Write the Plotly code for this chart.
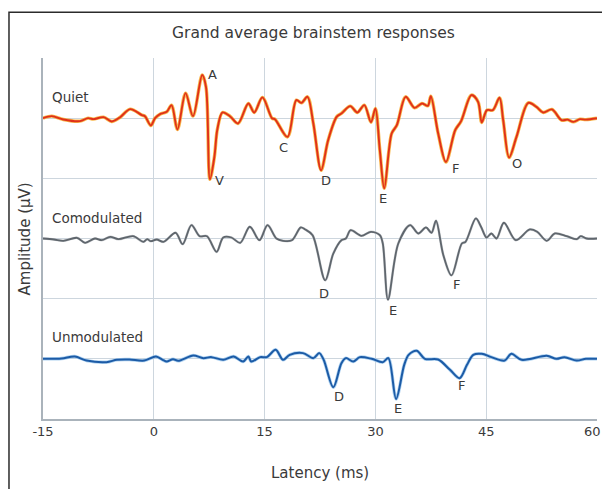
import plotly.graph_objects as go

# ---- data (latency in ms, amplitude in grid units x60) ----
quiet_ms = [-15, -13.8, -12.25, -10, -8.9, -8.2, -6.8, -5.7, -4.6, -3.2, -1.6, -1.2, -0.4, 0.17, 0.84, 1.75,
            2.4, 3.2, 4.3, 5.3, 6.55, 7.07, 7.6, 8.2, 8.6, 9.3, 10.3, 11.4, 12.8, 13.6, 14.7, 16, 16.4, 18.1,
            19.3, 20, 20.8, 21.6, 22.65, 23.6, 24.75, 25.4, 26.6, 27.55, 28.5, 29.4, 30.0, 30.6, 31.2, 32.2,
            32.9, 34.1, 35.3, 36.3, 37.1, 37.5, 38.5, 39.55, 40.8, 41.6, 43.0, 43.9, 44.4, 45.1, 45.9, 46.8,
            47.3, 48.1, 49.1, 50.7, 51.8, 52.7, 53.9, 55.2, 56.0, 56.8, 57.7, 58.5, 60]
quiet_amp = [0, 2, -1.3, -3, 0, -1, 1, -3.3, 0.7, 9, 3, 2, -7.3, 0, 4, 6.3,
             13, -11.3, 25, 2, 43, 31, -61, -38.7, -11.3, 5.7, 2, -5.3, 14.7, 5.7, 20.7, 0, -1, -18.7,
             18, 15.3, 21.3, -5.3, -52, -22, 1.3, 4.7, 12, 5.7, 13, -4, 9.7, -32, -70, -15.3,
             -7, 21.3, 10.3, 14.7, 12.3, 22, -15.3, -43.7, -12, -3, 23, 16.3, -4.3, 8, 8, 20.3,
             -2, -39.3, -18.7, 15.3, 11.3, 5.7, 8.7, -2, -1.5, -3.7, -1, -1.5, 0]

comod_ms = [-15, -13.5, -12.25, -10.4, -9.3, -7.96, -7.05, -5.9, -4.8, -2.8, -1.4, -0.9, -0.4, 0.4, 1.3,
            2.96, 3.9, 5.1, 6.2, 7.2, 8.5, 9.4, 10.5, 11.7, 13.0, 14.3, 15.4, 16.6, 17.5, 18.7, 19.9, 20.5,
            21.5, 23.2, 24.3, 25.4, 26.0, 26.65, 28.1, 29.4, 30.6, 31.0, 31.7, 33.1, 34.7, 35.8, 36.85,
            37.6, 38.2, 39.2, 40.3, 41.7, 42.2, 43.6, 44.3, 45.05, 45.7, 46.4, 47.4, 49.0, 50.9, 51.9, 53.2,
            54.3, 55.9, 57.25, 57.8, 58.6, 60]
comod_amp = [0, -1, -2.3, 0.7, -4.3, 0, -1.7, 1.7, -0.7, 2.3, -3.3, -0.7, -2.7, -1, -3.3,
             5.7, -5.7, 13.3, 2.3, 2.3, -13.3, 1, 1, -4.3, 11.7, -1.7, 13.3, 0, -2.3, -1.7, 11, 9,
             3.3, -41.7, -15, -1.7, 0, 8.3, 2.7, 6.7, 3.3, -5, -61, -5, 13.3, 5, 11,
             5.7, 17.7, -16.7, -36.7, -5, -3.3, 20, 11.7, 1, 5, 0, 15.7, -1.7, 9, 6.7, -2.3,
             5, 2.3, -0.7, 2.3, 0, 0]

unmod_ms = [-15, -12.5, -10.7, -9.1, -6.4, -5, -3.3, -1.3, 0.3, 1.2, 1.75, 2.6, 3.3, 5.35, 6.7, 7.8, 9.4,
            10.8, 12.1, 12.8, 13.2, 14.4, 15.3, 16.5, 17.5, 18.4, 20.2, 21.6, 22.4, 23.0, 24.3, 25.4, 26.0,
            27.0, 27.9, 29.5, 31.0, 31.75, 32.8, 33.9, 34.5, 35.6, 36.7, 38.5, 40.1, 41.4, 42.4, 43.25,
            44.4, 45.7, 47.5, 48.4, 49.8, 53.2, 54.5, 55.6, 57.25, 58.5, 60]
unmod_amp = [0, 0.3, 2.3, -1.7, -3.3, -1, -0.7, -1.7, 2.3, -1, -2.7, -0.3, -2, 3.3, 0.7, 1.7, -1,
             2.3, -2.7, 2.3, -2.7, 1.7, 1.7, 9, -1, 4, 5.7, 0.7, 5.7, -1, -28.3, -4.3, 0.7,
             -2.7, 1.7, 0, -3.3, 0.7, -40, -6, 4, 8, 0, -0.7, -11, -19.3, -6, 4,
             5, 1.7, -1.7, 5, -1, 3, 0, 1.7, -1.7, 0, 0]

series_names = ["Quiet", "Comodulated", "Unmodulated"]
x_ticks = [-15, 0, 15, 30, 45, 60]

# peak labels: (series index, text, latency ms, amplitude units relative to baseline)
peak_labels = [
    (0, "A", 8.0, 0.72), (0, "V", 8.96, -1.04), (0, "C", 17.5, -0.48), (0, "D", 23.3, -1.04),
    (0, "E", 31.0, -1.33), (0, "F", 40.8, -0.83), (0, "O", 49.2, -0.76),
    (1, "D", 23.0, -0.92), (1, "E", 32.4, -1.19), (1, "F", 41.0, -0.76),
    (2, "D", 25.1, -0.62), (2, "E", 33.1, -0.82), (2, "F", 41.7, -0.45),
]

# ---- layout constants ----
PX_PER_UNIT = 60.0
baselines = [5, 3, 1]
name_label_dy = [0.35, 0.34, 0.36]
halo_colors = ["#f7a51e", "#c3c6ca", "#9cc8ee"]
line_colors = ["#e0301a", "#5f666d", "#1c5ba6"]
halo_widths = [3.4, 2.6, 3.4]
line_widths = [1.9, 1.8, 2.0]

FONT = "'DejaVu Sans', sans-serif"
TXT = "#3a3a3a"

fig = go.Figure()
traces = [(quiet_ms, quiet_amp), (comod_ms, comod_amp), (unmod_ms, unmod_amp)]
for i, (xs, amps) in enumerate(traces):
    ys = [baselines[i] + a / PX_PER_UNIT for a in amps]
    fig.add_trace(go.Scatter(x=xs, y=ys, mode="lines", hoverinfo="skip",
                             line=dict(color=halo_colors[i], width=halo_widths[i],
                                       shape="spline", smoothing=0.9),
                             opacity=0.8, showlegend=False))
    fig.add_trace(go.Scatter(x=xs, y=ys, mode="lines", name=series_names[i],
                             line=dict(color=line_colors[i], width=line_widths[i],
                                       shape="spline", smoothing=0.9),
                             showlegend=False))

annotations = []
for i, name in enumerate(series_names):
    annotations.append(dict(x=-14.05, y=baselines[i] + name_label_dy[i], xref="x", yref="y",
                            text=name, showarrow=False, xanchor="left", yanchor="middle",
                            font=dict(family=FONT, size=13.5, color=TXT)))
for si, t, lx, ly in peak_labels:
    annotations.append(dict(x=lx, y=baselines[si] + ly, xref="x", yref="y", text=t,
                            showarrow=False, xanchor="center", yanchor="middle",
                            font=dict(family=FONT, size=13, color=TXT)))
annotations.append(dict(x=0.489, y=1.069, xref="paper", yref="paper",
                        text="Grand average brainstem responses", showarrow=False,
                        xanchor="center", yanchor="middle",
                        font=dict(family=FONT, size=15.5, color=TXT)))
annotations.append(dict(x=0.5, y=-0.15, xref="paper", yref="paper", text="Latency (ms)",
                        showarrow=False, xanchor="center", yanchor="middle",
                        font=dict(family=FONT, size=15, color=TXT)))
annotations.append(dict(x=-0.0325, y=0.5, xref="paper", yref="paper", text="Amplitude (µV)",
                        showarrow=False, textangle=-90, xanchor="center", yanchor="middle",
                        font=dict(family=FONT, size=15, color=TXT)))
# last tick label drawn as right-anchored text so it stays inside the visible page
last_tick = x_ticks[-1]
annotations.append(dict(x=last_tick, y=0, xref="x", yref="y", text=str(last_tick),
                        showarrow=False, xanchor="right", yanchor="top", xshift=6, yshift=-3,
                        font=dict(family=FONT, size=13, color=TXT)))
tick_text = [str(v) for v in x_ticks[:-1]] + [""]

# page body has an 8px margin; figure is sized/shifted so the plot lands where the reference is
fig.update_layout(
    width=602, height=481,
    margin=dict(l=35, r=13, t=50, b=70, autoexpand=False),
    paper_bgcolor="white", plot_bgcolor="white",
    annotations=annotations,
    shapes=[dict(type="path", xref="paper", yref="paper",
                 path="M -0.0614,-0.3 L -0.0614,1.127 L 1.1,1.127",
                 line=dict(color="#2b2b2b", width=1.5))],
    xaxis=dict(range=[-15, 60], tickvals=x_ticks, ticktext=tick_text,
               showgrid=True, gridcolor="#cdd6de", gridwidth=1, zeroline=False,
               showline=True, linecolor="#aab3bb", linewidth=1.5, ticks="", automargin=False,
               tickfont=dict(family=FONT, size=13, color=TXT)),
    yaxis=dict(range=[0, 6], dtick=1, showticklabels=False, showgrid=True,
               gridcolor="#cdd6de", gridwidth=1, zeroline=False, automargin=False,
               showline=True, linecolor="#aab3bb", linewidth=1.5, ticks=""),
)

fig.write_html("out.html")
